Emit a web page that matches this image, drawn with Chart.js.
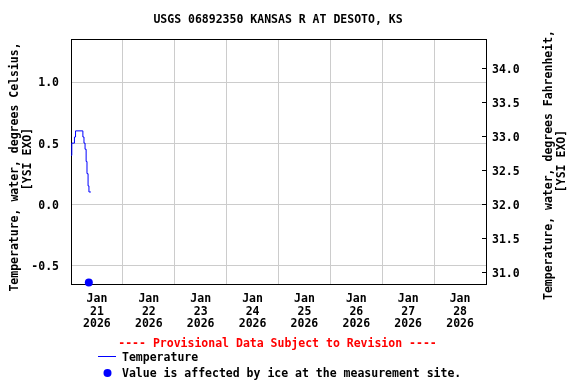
<!DOCTYPE html>
<html>
<head>
<meta charset="utf-8">
<script src="https://cdn.jsdelivr.net/npm/chart.js@4"></script>
<style>
  body { margin: 0; background: #fff; }
  #wrap { width: 576px; height: 384px; }
</style>
</head>
<body>
<div id="wrap"><canvas id="tempChart" width="576" height="384"></canvas></div>
<script>
// hours after Jan 21 2026 00:00
const hours = [0, 0.37, 1.6, 2.1, 5.5, 6.0, 6.5, 7.0, 7.4, 7.9, 8.3, 9.2];
const tempC = [0.40, 0.50, 0.55, 0.60, 0.55, 0.50, 0.45, 0.35, 0.25, 0.15, 0.10, 0.10];

const iceHours = [8.25];
const iceC = [-0.64];

const xTicks = [0, 12, 24, 36, 48, 60, 72, 84, 96, 108, 120, 132, 144, 156, 168, 180, 192];
const dayLabels = ["21", "22", "23", "24", "25", "26", "27", "28"];
const yTicksC = [-0.5, 0.0, 0.5, 1.0];
const yTicksF = [31.0, 31.5, 32.0, 32.5, 33.0, 33.5, 34.0];

const yMinC = -0.653;
const yMaxC = 1.352;

const FONT = '"DejaVu Sans Mono", monospace';
Chart.defaults.font.family = FONT;
Chart.defaults.font.size = 11.5;
Chart.defaults.font.weight = "bold";
Chart.defaults.color = "#000";

const extras = {
  id: "extras",
  beforeDatasetsDraw(chart) {
    const { ctx, chartArea: a } = chart;
    ctx.save();
    ctx.strokeStyle = "#000";
    ctx.lineWidth = 1;
    ctx.strokeRect(Math.round(a.left) + 0.5, Math.round(a.top) + 0.5,
      Math.round(a.right - a.left), Math.round(a.bottom - a.top));
    // inward ticks on the right axis
    const yr = chart.scales.yF;
    yTicksF.forEach(v => {
      const y = Math.round(yr.getPixelForValue(v)) + 0.5;
      ctx.beginPath();
      ctx.moveTo(a.right - 4, y);
      ctx.lineTo(a.right, y);
      ctx.stroke();
    });
    ctx.restore();
  },
  afterDraw(chart) {
    const ctx = chart.ctx;
    ctx.save();
    ctx.font = "bold 11.5px " + FONT;
    ctx.fillStyle = "#000";
    ctx.textBaseline = "middle";
    ctx.textAlign = "center";
    ctx.fillText("USGS 06892350 KANSAS R AT DESOTO, KS", 278, 20.5);

    // axis titles
    const vtext = lines => {
      lines.forEach(l => {
        ctx.save();
        ctx.translate(l[1], l[2]);
        ctx.rotate(-Math.PI / 2);
        ctx.fillText(l[0], 0, 0);
        ctx.restore();
      });
    };
    vtext([["Temperature, water, degrees Celsius,", 15, 167], ["[YSI EXO]", 28.5, 159]]);
    vtext([["Temperature, water, degrees Fahrenheit,", 549.5, 165], ["[YSI EXO]", 562.5, 161]]);

    // legend
    ctx.fillStyle = "#ff0000";
    ctx.fillText("---- Provisional Data Subject to Revision ----", 277.5, 344.5);
    ctx.strokeStyle = "#0000ff";
    ctx.lineWidth = 1;
    ctx.beginPath();
    ctx.moveTo(98, 356.5);
    ctx.lineTo(116, 356.5);
    ctx.stroke();
    ctx.fillStyle = "#0000ff";
    ctx.beginPath();
    ctx.arc(107.5, 373, 4, 0, Math.PI * 2);
    ctx.fill();
    ctx.fillStyle = "#000";
    ctx.textAlign = "left";
    ctx.fillText("Temperature", 122, 358);
    ctx.fillText("Value is affected by ice at the measurement site.", 122, 374.5);
    ctx.restore();
  }
};

const ctx = document.getElementById("tempChart").getContext("2d");

const tempChart = new Chart(ctx, {
  type: "line",
  data: {
    datasets: [
      {
        label: "Temperature",
        data: hours.map((h, i) => ({ x: h, y: tempC[i] })),
        borderColor: "#0000ff",
        borderWidth: 1,
        pointRadius: 0,
        stepped: true,
        fill: false,
        yAxisID: "yC"
      },
      {
        label: "Ice",
        data: iceHours.map((h, i) => ({ x: h, y: iceC[i] })),
        showLine: false,
        pointRadius: 4,
        pointBackgroundColor: "#0000ff",
        pointBorderColor: "#0000ff",
        pointBorderWidth: 0,
        clip: false,
        yAxisID: "yC"
      }
    ]
  },
  options: {
    responsive: false,
    animation: false,
    layout: { padding: { top: 39, left: 0, right: 0, bottom: 0 } },
    plugins: {
      legend: { display: false },
      title: { display: false },
      tooltip: { enabled: false }
    },
    scales: {
      x: {
        type: "linear",
        min: 0,
        max: 192,
        afterBuildTicks: s => { s.ticks = xTicks.map(v => ({ value: v })); },
        afterFit: s => { s.height = 100; },
        border: { display: false },
        grid: {
          drawTicks: false,
          color: c => (c.tick && c.tick.value % 24 === 0) ? "#cccccc" : "rgba(0,0,0,0)",
          lineWidth: 1
        },
        ticks: {
          autoSkip: false,
          maxRotation: 0,
          padding: 9,
          font: { lineHeight: "12.6px" },
          callback: v => v % 24 === 12 ? ["Jan", dayLabels[Math.floor(v / 24)], "2026"] : ""
        }
      },
      yC: {
        type: "linear",
        position: "left",
        min: yMinC,
        max: yMaxC,
        afterBuildTicks: s => { s.ticks = yTicksC.map(v => ({ value: v })); },
        afterFit: s => { s.width = 71; },
        border: { display: false },
        grid: { drawTicks: false, color: "#cccccc", lineWidth: 1 },
        ticks: { padding: 12, labelOffset: 1.5, callback: v => v.toFixed(1) }
      },
      yF: {
        type: "linear",
        position: "right",
        min: yMinC * 1.8 + 32,
        max: yMaxC * 1.8 + 32,
        afterBuildTicks: s => { s.ticks = yTicksF.map(v => ({ value: v })); },
        afterFit: s => { s.width = 90; },
        border: { display: false },
        grid: { drawTicks: false, drawOnChartArea: false },
        ticks: { padding: 6, labelOffset: 1.5, callback: v => v.toFixed(1) }
      }
    }
  },
  plugins: [extras]
});
</script>
</body>
</html>
